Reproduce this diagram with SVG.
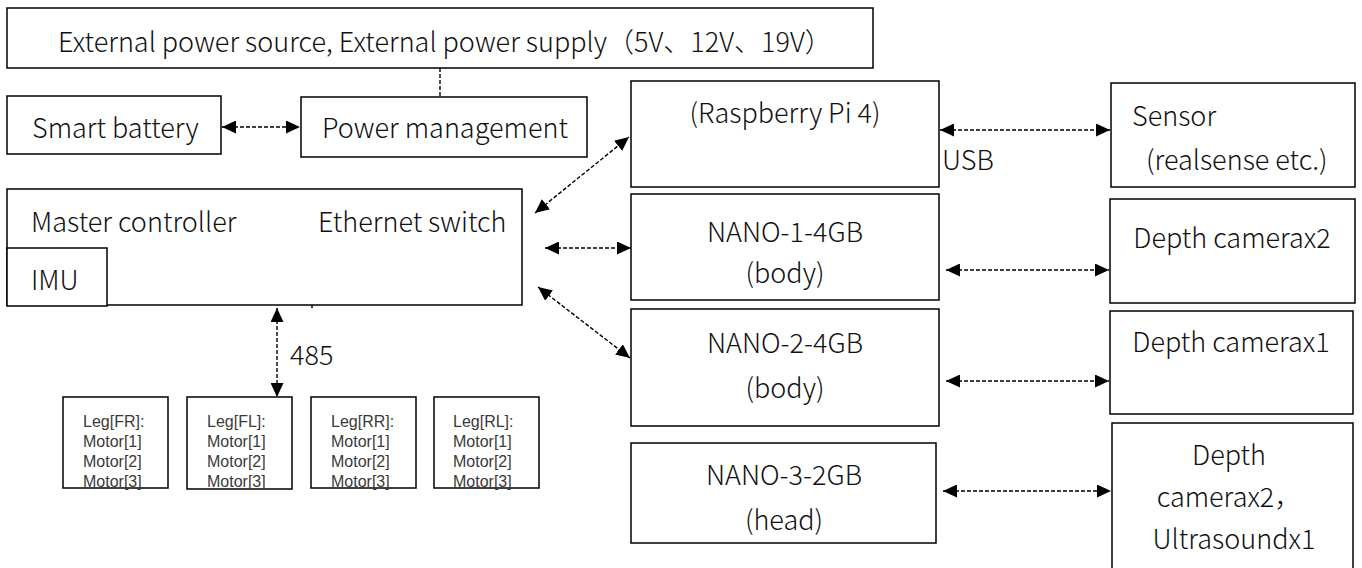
<svg xmlns="http://www.w3.org/2000/svg" width="1362" height="568" viewBox="0 0 1362 568">
<style>
.b{fill:#fff;stroke:#000;stroke-width:1.5}
.t{font-family:"Noto Sans CJK SC Light","Noto Sans CJK SC","Noto Sans",sans-serif;font-weight:300;font-size:27px;fill:#111}
.s{font-family:"Liberation Sans",Arial,sans-serif;font-size:16px;fill:#3a3a3a}
.c{text-anchor:middle}
.d{fill:none;stroke:#000;stroke-width:1.4;stroke-dasharray:4 2}
</style>
<defs>
<marker id="ah" viewBox="0 0 14 13" refX="14" refY="6.5" markerWidth="14" markerHeight="13" markerUnits="userSpaceOnUse" orient="auto-start-reverse">
<path d="M0,0 L14,6.5 L0,13 z" fill="#000"/>
</marker>
</defs>
<rect width="1362" height="568" fill="#fff"/>
<g id="ext-power"><rect class="b" x="7" y="8" width="866" height="60"/><text class="t" x="58" y="52">External power source, External power supply（5V、12V、19V）</text></g>
<g id="smart-battery"><rect class="b" x="7" y="96" width="214" height="58"/><text class="t" x="32" y="138">Smart battery</text></g>
<g id="power-mgmt"><rect class="b" x="301" y="97" width="286" height="60"/><text class="t" x="322" y="138">Power management</text></g>
<g id="raspberry"><rect class="b" x="631" y="81" width="308" height="106"/><text class="t c" x="785" y="123">(Raspberry Pi 4)</text></g>
<g id="sensor"><rect class="b" x="1111" y="83" width="244" height="104"/><text class="t" x="1132" y="126">Sensor</text><text class="t" x="1146" y="170">(realsense etc.)</text></g>
<g id="master"><rect class="b" x="7" y="189" width="515" height="116"/><text class="t" x="31" y="232">Master controller</text><text class="t" x="318" y="232">Ethernet switch</text></g>
<g id="imu"><rect class="b" x="7" y="248" width="100" height="58"/><text class="t" x="31" y="290">IMU</text></g>
<g id="leg-fr"><rect class="b" x="63" y="397" width="105" height="91"/><text class="s" x="83" y="427">Leg[FR]:</text><text class="s" x="83" y="447">Motor[1]</text><text class="s" x="83" y="467">Motor[2]</text><text class="s" x="83" y="487">Motor[3]</text></g>
<g id="leg-fl"><rect class="b" x="187" y="397" width="105" height="92"/><text class="s" x="207" y="427">Leg[FL]:</text><text class="s" x="207" y="447">Motor[1]</text><text class="s" x="207" y="467">Motor[2]</text><text class="s" x="207" y="487">Motor[3]</text></g>
<g id="leg-rr"><rect class="b" x="311" y="397" width="105" height="91"/><text class="s" x="331" y="427">Leg[RR]:</text><text class="s" x="331" y="447">Motor[1]</text><text class="s" x="331" y="467">Motor[2]</text><text class="s" x="331" y="487">Motor[3]</text></g>
<g id="leg-rl"><rect class="b" x="434" y="397" width="105" height="91"/><text class="s" x="453" y="427">Leg[RL]:</text><text class="s" x="453" y="447">Motor[1]</text><text class="s" x="453" y="467">Motor[2]</text><text class="s" x="453" y="487">Motor[3]</text></g>
<g id="nano1"><rect class="b" x="631" y="194" width="308" height="106"/><text class="t c" x="785" y="242">NANO-1-4GB</text><text class="t c" x="785" y="283">(body)</text></g>
<g id="nano2"><rect class="b" x="631" y="309" width="308" height="117"/><text class="t c" x="785" y="353">NANO-2-4GB</text><text class="t c" x="785" y="398">(body)</text></g>
<g id="nano3"><rect class="b" x="631" y="443" width="305" height="100"/><text class="t c" x="784" y="485">NANO-3-2GB</text><text class="t c" x="784" y="530">(head)</text></g>
<g id="depth2"><rect class="b" x="1110" y="199" width="245" height="104"/><text class="t c" x="1232" y="248">Depth camerax2</text></g>
<g id="depth1"><rect class="b" x="1110" y="311" width="243" height="103"/><text class="t c" x="1231" y="352">Depth camerax1</text></g>
<g id="depth-ultra"><rect class="b" x="1112" y="423" width="241" height="150"/><text class="t c" x="1229" y="465">Depth</text><text class="t c" x="1229" y="507">camerax2，</text><text class="t c" x="1234" y="549">Ultrasoundx1</text></g>
<g id="connectors">
<line class="d" x1="440" y1="68" x2="440" y2="97"/>
<line class="d" x1="222" y1="127" x2="300" y2="127" marker-start="url(#ah)" marker-end="url(#ah)"/>
<line class="d" x1="535" y1="213" x2="629" y2="137" marker-start="url(#ah)" marker-end="url(#ah)"/>
<line class="d" x1="545" y1="248" x2="631" y2="248" marker-start="url(#ah)" marker-end="url(#ah)"/>
<line class="d" x1="538" y1="287" x2="630" y2="358" marker-start="url(#ah)" marker-end="url(#ah)"/>
<line class="d" x1="940" y1="130" x2="1110" y2="130" marker-start="url(#ah)" marker-end="url(#ah)"/>
<line class="d" x1="946" y1="270" x2="1109" y2="270" marker-start="url(#ah)" marker-end="url(#ah)"/>
<line class="d" x1="946" y1="381" x2="1109" y2="381" marker-start="url(#ah)" marker-end="url(#ah)"/>
<line class="d" x1="943" y1="491" x2="1111" y2="491" marker-start="url(#ah)" marker-end="url(#ah)"/>
<line class="d" x1="277" y1="308" x2="277" y2="397" marker-start="url(#ah)" marker-end="url(#ah)"/>
<line x1="312" y1="305" x2="312" y2="308" stroke="#000" stroke-width="1.5"/>
<text class="t" x="942" y="170">USB</text>
<text class="t" x="290" y="365">485</text>
</g>
</svg>
